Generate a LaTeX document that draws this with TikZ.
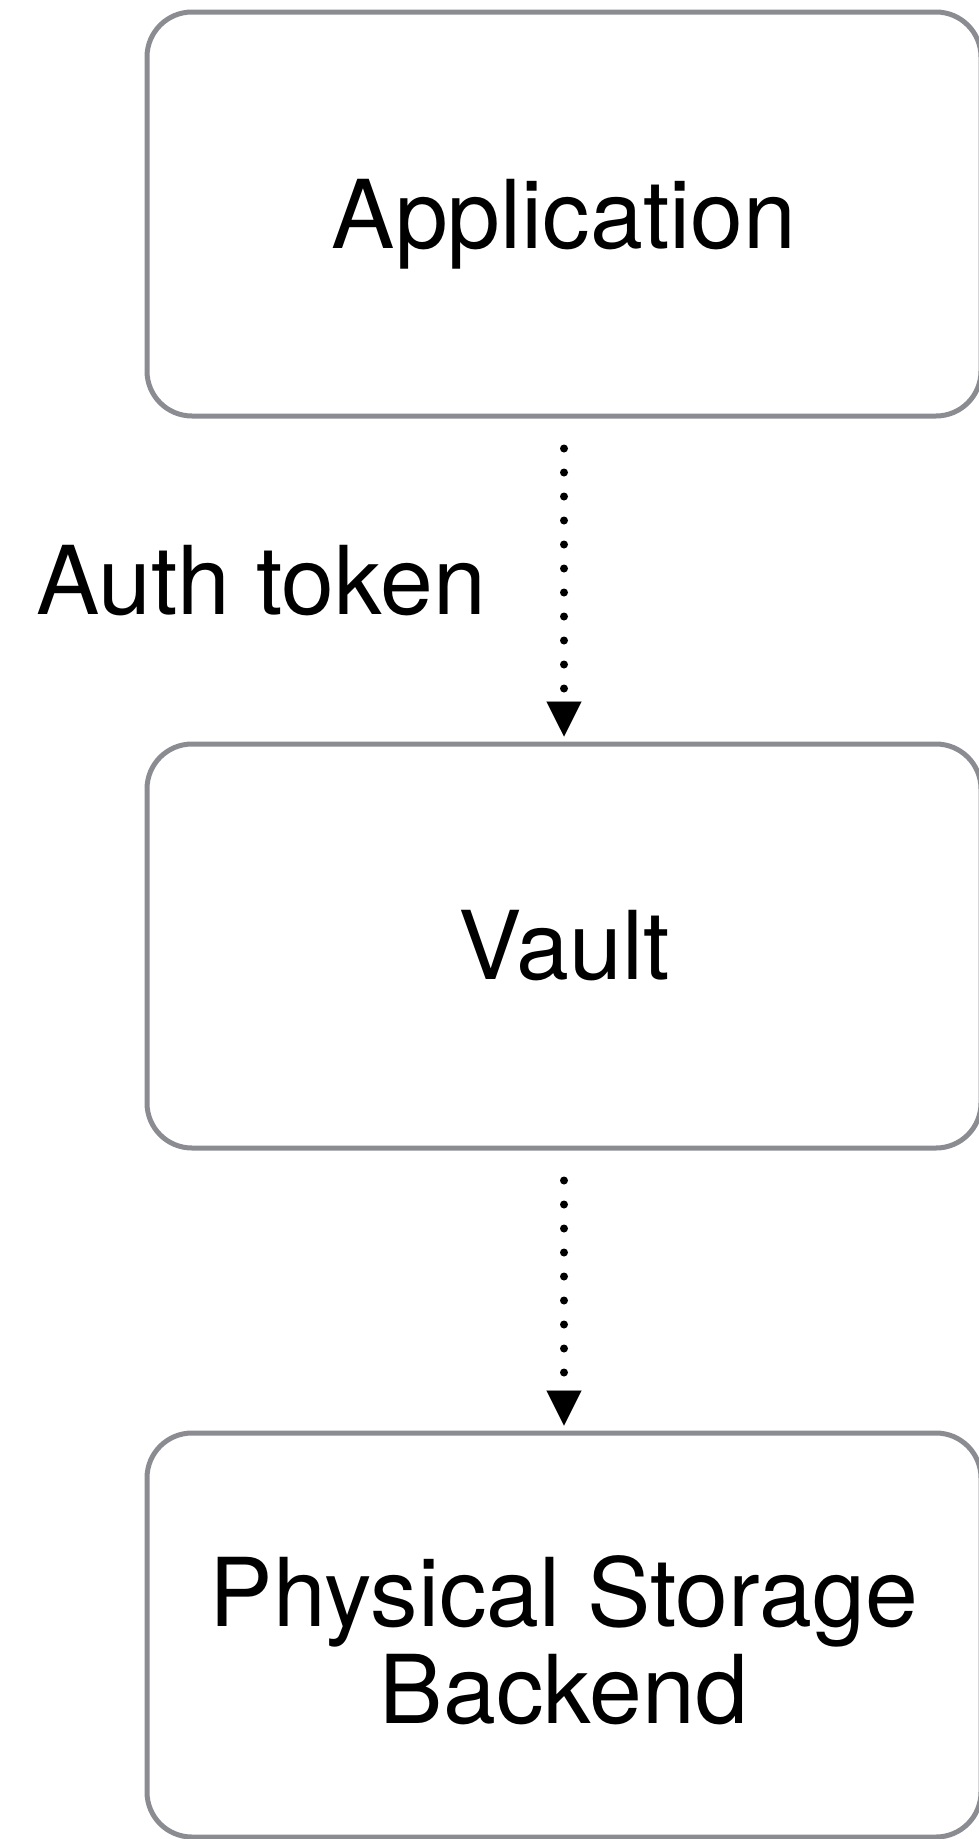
\documentclass[tikz,border=0pt]{standalone}
\usepackage{fontspec}
\setmainfont{TeX Gyre Heros}
\usetikzlibrary{arrows.meta,positioning}
\definecolor{boxgray}{rgb}{0.54, 0.55, 0.57}
\begin{document}
\begin{tikzpicture}[x=1pt,y=1pt,
    box/.style={draw=boxgray,line width=5pt,rounded corners=45pt,
        minimum width=834pt,minimum height=404pt,align=center,
        font=\fontsize{95}{97}\selectfont},
    flow/.style={line width=8pt,line cap=round,dash pattern=on 0pt off 24pt,
        -{Triangle[width=35pt,length=35pt,line width=0.1pt]},
        shorten <=30pt,shorten >=5pt}]
        \useasboundingbox (0,0) rectangle (978,-1839);
        \node[box] (app) at (564,-214) {\raisebox{0pt}[\height][0pt]{Application}};
        \node[box] (vault) at (564,-946) {Vault};
        \node[box] (storage) at (564,-1635) {\raisebox{0pt}[81pt]{Physical Storage}\\Backend};
        \node[font=\fontsize{95}{97}\selectfont] (token) at (261,-581) {Auth token};
        \draw[flow] (app.south) -- (vault.north);
        \draw[flow] (vault.south) -- (storage.north);
    \end{tikzpicture}
\end{document}
